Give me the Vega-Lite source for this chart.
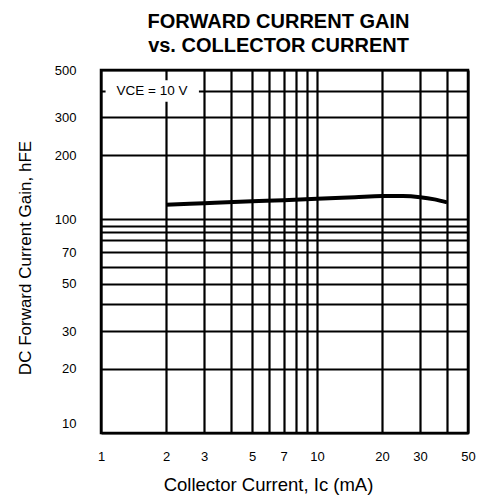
{
  "$schema": "https://vega.github.io/schema/vega-lite/v6.json",
  "width": 367,
  "height": 363,
  "autosize": "none",
  "padding": {"left": 101, "top": 70, "right": 9, "bottom": 63},
  "background": "white",
  "title": {
    "text": ["FORWARD CURRENT GAIN", "vs. COLLECTOR CURRENT"],
    "font": "Liberation Sans",
    "fontSize": 20,
    "fontWeight": "bold",
    "lineHeight": 24.5,
    "anchor": "middle",
    "frame": "group",
    "offset": 8,
    "dx": -6,
    "color": "black"
  },
  "config": {
    "view": {"stroke": "black", "strokeWidth": 2.5},
    "axis": {
      "labelFont": "Liberation Sans",
      "titleFont": "Liberation Sans",
      "labelColor": "black",
      "titleColor": "black",
      "labelFontSize": 13,
      "titleFontWeight": "normal",
      "domain": false,
      "ticks": false,
      "grid": true,
      "gridColor": "black",
      "gridOpacity": 1,
      "gridWidth": 2.2,
      "labelOverlap": false,
      "labelFlush": false
    }
  },
  "encoding": {
    "x": {
      "field": "ic", "type": "quantitative",
      "scale": {"type": "log", "domain": [1, 50], "nice": false, "zero": false},
      "axis": {
        "title": "Collector Current, Ic (mA)",
        "titleFontSize": 18.5,
        "titleX": 167,
        "titleY": 57,
        "titleAlign": "center",
        "titleBaseline": "alphabetic",
        "values": [1, 2, 3, 4, 5, 6, 7, 8, 9, 10, 20, 30, 40, 50],
        "labelExpr": "indexof([1,2,3,5,7,10,20,30,50], datum.value) >= 0 ? '' + datum.value : ''",
        "labelPadding": 17
      }
    },
    "y": {
      "field": "hfe", "type": "quantitative",
      "scale": {"type": "log", "domain": [10, 500], "nice": false, "zero": false},
      "axis": {
        "title": "DC Forward Current Gain, hFE",
        "titleFontSize": 17,
        "titleX": -71,
        "titleY": 187.5,
        "titleAlign": "center",
        "titleBaseline": "alphabetic",
        "values": [10, 20, 30, 40, 50, 60, 70, 80, 87, 93, 100, 200, 300, 400, 500],
        "labelExpr": "indexof([10,20,30,50,70,100,200,300,500], datum.value) >= 0 ? '' + datum.value : ''",
        "labelPadding": 25,
        "labelOffset": {"condition": {"test": "datum.value === 10", "value": -10}, "value": 0}
      }
    }
  },
  "layer": [
    {
      "data": {"values": [
        {"ic": 2, "hfe": 117},
        {"ic": 3, "hfe": 119},
        {"ic": 5, "hfe": 121.5},
        {"ic": 7, "hfe": 123},
        {"ic": 10, "hfe": 125},
        {"ic": 15, "hfe": 127},
        {"ic": 20, "hfe": 128.5},
        {"ic": 25, "hfe": 128.5},
        {"ic": 30, "hfe": 127},
        {"ic": 35, "hfe": 124},
        {"ic": 40, "hfe": 120}
      ]},
      "mark": {"type": "line", "color": "black", "strokeWidth": 4, "interpolate": "monotone"}
    },
    {
      "data": {"values": [{"ic": 1.05, "ic2": 2.84, "hfe": 355, "hfe2": 448}]},
      "mark": {"type": "rect", "fill": "white"},
      "encoding": {
        "x2": {"field": "ic2"},
        "y2": {"field": "hfe2"}
      }
    },
    {
      "data": {"values": [{"ic": 1.18, "hfe": 400, "label": "VCE = 10 V"}]},
      "mark": {"type": "text", "align": "left", "baseline": "middle", "fontSize": 13.5, "font": "Liberation Sans", "color": "black"},
      "encoding": {
        "text": {"field": "label"}
      }
    }
  ]
}
